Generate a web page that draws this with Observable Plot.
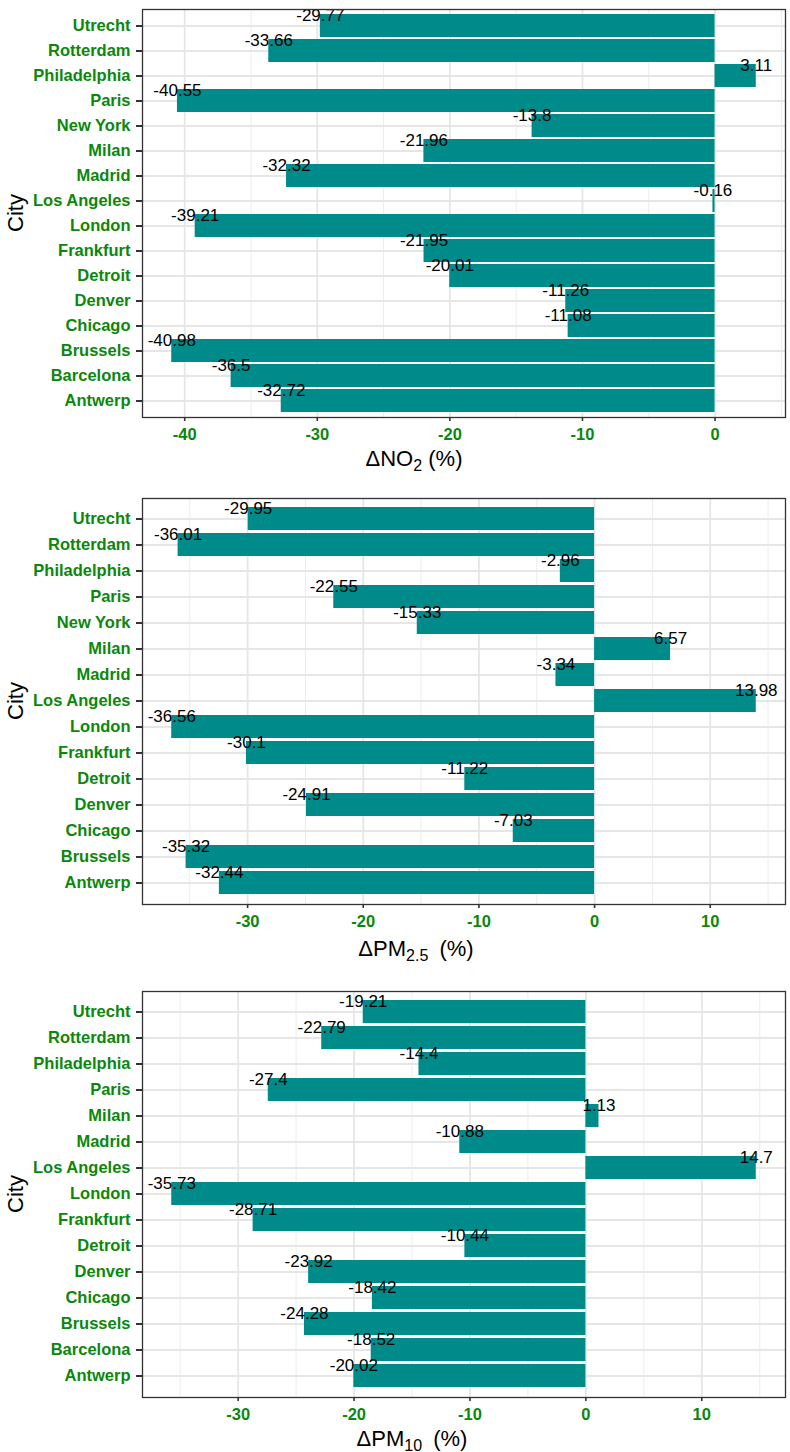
<!DOCTYPE html>
<html><head><meta charset="utf-8">
<script src="https://cdn.jsdelivr.net/npm/d3@7"></script>
<script src="https://cdn.jsdelivr.net/npm/@observablehq/plot@0.6"></script>
<style>
body{margin:0;background:#fff;}
#chart svg{display:block;}
</style></head><body><div id="chart"></div>
<script>
// Panel 1: ΔNO2 (%)
const citiesNO2 = ["Utrecht","Rotterdam","Philadelphia","Paris","New York","Milan","Madrid","Los Angeles","London","Frankfurt","Detroit","Denver","Chicago","Brussels","Barcelona","Antwerp"];
const valuesNO2 = [-29.77,-33.66,3.11,-40.55,-13.8,-21.96,-32.32,-0.16,-39.21,-21.95,-20.01,-11.26,-11.08,-40.98,-36.5,-32.72];

// Panel 2: ΔPM2.5 (%)
const citiesPM25 = ["Utrecht","Rotterdam","Philadelphia","Paris","New York","Milan","Madrid","Los Angeles","London","Frankfurt","Detroit","Denver","Chicago","Brussels","Antwerp"];
const valuesPM25 = [-29.95,-36.01,-2.96,-22.55,-15.33,6.57,-3.34,13.98,-36.56,-30.1,-11.22,-24.91,-7.03,-35.32,-32.44];

// Panel 3: ΔPM10 (%)
const citiesPM10 = ["Utrecht","Rotterdam","Philadelphia","Paris","Milan","Madrid","Los Angeles","London","Frankfurt","Detroit","Denver","Chicago","Brussels","Barcelona","Antwerp"];
const valuesPM10 = [-19.21,-22.79,-14.4,-27.4,1.13,-10.88,14.7,-35.73,-28.71,-10.44,-23.92,-18.42,-24.28,-18.52,-20.02];

const majorTicks = [-40,-30,-20,-10,0,10];
const minorTicks = [-45,-35,-25,-15,-5,5,15];

const GREEN = "#0b870b";
const BAR = "#008B8B";
const FONT = "'Liberation Sans', Arial, Helvetica, sans-serif";

function panel(cities, values, title, opts) {
  const data = cities.map((c, i) => ({city: c, value: values[i]}));
  const [lo, hi] = d3.extent([0, ...values]);
  const pad = (hi - lo) * 0.05;
  const domain = [lo - pad, hi + pad];
  const inDom = t => t >= domain[0] && t <= domain[1];
  const ticks = majorTicks.filter(inDom);
  const minor = minorTicks.filter(inDom);
  const plot = Plot.plot({
    width: 790,
    height: opts.height,
    marginLeft: 142,
    marginRight: 5,
    marginTop: opts.marginTop,
    marginBottom: opts.marginBottom,
    style: {fontFamily: FONT, background: "#fff", overflow: "visible"},
    x: {domain, label: null},
    y: {domain: cities, paddingInner: 0.1, paddingOuter: 0.15, label: null},
    marks: [
      Plot.gridX(minor, {stroke: "#ececec", strokeOpacity: 1, strokeWidth: 1}),
      Plot.gridX(ticks, {stroke: "#e6e6e6", strokeOpacity: 1, strokeWidth: 1.8}),
      Plot.gridY({stroke: "#e6e6e6", strokeOpacity: 1, strokeWidth: 1.8}),
      Plot.barX(data, {x: "value", y: "city", fill: BAR}),
      Plot.text(data, {x: "value", y: "city", text: d => String(d.value), dy: -10, fill: "black", fontSize: 17, textAnchor: "middle"}),
      Plot.frame({stroke: "#333", strokeWidth: 1.3}),
      Plot.axisX(ticks, {tickSize: 4, tickPadding: 7, stroke: "#333", strokeWidth: 1.6, fill: GREEN, fontSize: 16.5, fontWeight: "bold", label: null, tickFormat: d => String(d)}),
      Plot.axisY({tickSize: 6, tickPadding: 6, stroke: "#333", strokeWidth: 2, fill: GREEN, fontSize: 16.5, fontWeight: "bold", label: null})
    ]
  });
  const svg = d3.select(plot);
  // y axis title
  const cy = (opts.marginTop + opts.height - opts.marginBottom) / 2;
  svg.append("text")
    .attr("transform", `translate(15,${cy}) rotate(-90)`)
    .attr("text-anchor", "middle").attr("dominant-baseline", "central")
    .attr("font-size", 22).attr("font-family", FONT).attr("fill", "#000")
    .text("City");
  // x axis title with subscript
  const t = svg.append("text")
    .attr("x", opts.titleX).attr("y", opts.titleY)
    .attr("text-anchor", "middle")
    .attr("font-size", 22).attr("font-family", FONT).attr("fill", "#000");
  t.append("tspan").text(title[0]);
  t.append("tspan").attr("font-size", 16).attr("dy", 5).text(title[1]);
  t.append("tspan").attr("dy", -5).attr("dx", opts.gap).text(title[2]);
  return plot;
}

const root = document.getElementById("chart");
root.appendChild(panel(citiesNO2, valuesNO2, ["ΔNO", "2", " (%)"], {height: 477, marginTop: 9, marginBottom: 60, titleX: 414, titleY: 466, gap: 0}));
root.appendChild(panel(citiesPM25, valuesPM25, ["ΔPM", "2.5", " (%)"], {height: 493, marginTop: 21, marginBottom: 66, titleX: 416, titleY: 479, gap: 5}));
root.appendChild(panel(citiesPM10, valuesPM10, ["ΔPM", "10", " (%)"], {height: 482, marginTop: 21, marginBottom: 55, titleX: 412, titleY: 476, gap: 5}));
</script>
</body></html>
